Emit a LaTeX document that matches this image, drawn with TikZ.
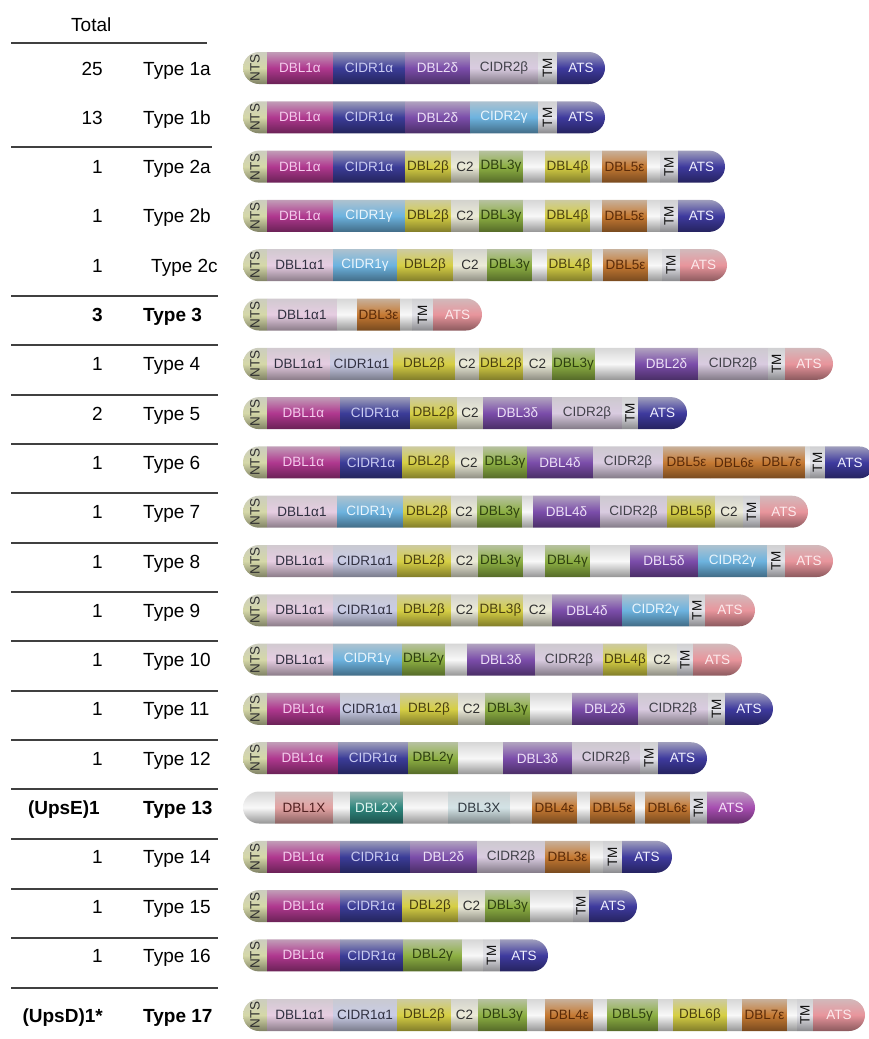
\documentclass[tikz,border=0pt]{standalone}
\usepackage{fontspec}
\setmainfont{Liberation Sans}
\usepackage{graphicx}
\usepackage{tikz}

\definecolor{nts}{HTML}{D5D8A8}\definecolor{ntsT}{HTML}{303030}
\definecolor{dA}{HTML}{B0388F}\definecolor{dAT}{HTML}{F4CBEC}
\definecolor{cA}{HTML}{3B3C98}\definecolor{cAT}{HTML}{CACCF2}
\definecolor{del}{HTML}{7B4DAA}\definecolor{delT}{HTML}{ECE0F6}
\definecolor{cB}{HTML}{D9CBE0}\definecolor{cBT}{HTML}{404048}
\definecolor{gam}{HTML}{6DB3DF}\definecolor{gamT}{HTML}{EAF5FC}
\definecolor{tm}{HTML}{E4E4EA}\definecolor{tmT}{HTML}{101010}
\definecolor{atsB}{HTML}{3E3A9E}\definecolor{atsBT}{HTML}{F0F0FF}
\definecolor{atsP}{HTML}{E8959C}\definecolor{atsPT}{HTML}{FCEAEC}
\definecolor{atsM}{HTML}{A64DB0}\definecolor{atsMT}{HTML}{F6E2F8}
\definecolor{bet}{HTML}{D6CF45}\definecolor{betT}{HTML}{4A4010}
\definecolor{ctw}{HTML}{ECEBD8}\definecolor{ctwT}{HTML}{303030}
\definecolor{grn}{HTML}{8DB043}\definecolor{grnT}{HTML}{2E4010}
\definecolor{eps}{HTML}{C67A33}\definecolor{epsT}{HTML}{5A2A08}
\definecolor{gap}{HTML}{F8F8F8}\definecolor{gapT}{HTML}{000000}
\definecolor{aI}{HTML}{E6CDE2}\definecolor{aIT}{HTML}{303040}
\definecolor{cI}{HTML}{C9CCE6}\definecolor{cIT}{HTML}{303040}
\definecolor{xI}{HTML}{E3A3A3}\definecolor{xIT}{HTML}{502020}
\definecolor{xII}{HTML}{2F877E}\definecolor{xIIT}{HTML}{E0F4F0}
\definecolor{xIII}{HTML}{D3E3E6}\definecolor{xIIIT}{HTML}{303840}

\newcommand{\domainbar}[4]{%
  \begin{scope}
    \clip[rounded corners=16pt] (243,#2-16) rectangle (#3,#2+16);
    \foreach \xe/\dk/\dl [count=\i, remember=\xe as \xs (initially 243)] in {#4}{
      \path[dom=\dk] (\xs,#2-16) rectangle (\xe,#2+16);
      \node[lbl, text=\dk T] (#1-\i) at ({(\xs+\xe)/2},#2) {\dl};
    }
  \end{scope}}
\newcommand{\vlab}[1]{\rotatebox{90}{\fontsize{13.5}{14}\selectfont #1}}

\begin{document}
\begin{tikzpicture}[x=1pt,y=-1pt,
    dom/.style={top color=#1!50!gray!60!white, bottom color=#1!60!black, middle color=#1},
    lbl/.style={font=\fontsize{13.5}{14}\selectfont, inner sep=0pt},
    cnt/.style={anchor=base east, font=\fontsize{19}{22}\selectfont, inner sep=0pt},
    typ/.style={anchor=base west, font=\fontsize{19}{22}\selectfont, inner sep=0pt},
    rule/.style={line width=1.6pt, draw=black!75}]
  \useasboundingbox (0,0) rectangle (869,1039);

  \node[typ] (total) at (71,31) {Total};
  \draw[rule] (11,43) -- (207,43);
  \draw[rule] (11,147) -- (212,147);
  \foreach \ly in {296,345,395,444,493,543,592,641,691,740,789,839,889,938,988}
    \draw[rule] (11,\ly) -- (218,\ly);

  \foreach \ry/\nr/\ty in {68/25/1a,117.3/13/1b,166.6/1/2a,215.9/1/2b,363.8/1/4,413.1/2/5,462.4/1/6,511.7/1/7,561/1/8,610.3/1/9,659.6/1/10,708.9/1/11,758.2/1/12,856.8/1/14,906.1/1/15,955.4/1/16}{
    \node[cnt] (n\ty) at (103,\ry+7) {\nr};
    \node[typ] (t\ty) at (143,\ry+7) {Type \ty};
  }
  \node[cnt] (n2c) at (103,272.2) {1};
  \node[typ] (t2c) at (151,272.2) {Type 2c};
  \node[cnt, font=\fontsize{19}{22}\selectfont\bfseries] (n3) at (103,321.5) {3};
  \node[typ, font=\fontsize{19}{22}\selectfont\bfseries] (t3) at (143,321.5) {Type 3};
  \node[cnt, font=\fontsize{19}{22}\selectfont\bfseries] (n13) at (100,814.5) {(UpsE)1};
  \node[typ, font=\fontsize{19}{22}\selectfont\bfseries] (t13) at (143,814.5) {Type 13};
  \node[cnt, font=\fontsize{19}{22}\selectfont\bfseries] (n17) at (103,1022) {(UpsD)1*};
  \node[typ, font=\fontsize{19}{22}\selectfont\bfseries] (t17) at (143,1022) {Type 17};

  \domainbar{b1a}{68}{605}{267/nts/\vlab{NTS},333/dA/DBL1α,405/cA/CIDR1α,470/del/DBL2δ,538/cB/CIDR2β,557/tm/\vlab{TM},605/atsB/ATS}
  \domainbar{b1b}{117.3}{605}{267/nts/\vlab{NTS},333/dA/DBL1α,405/cA/CIDR1α,470/del/DBL2δ,538/gam/CIDR2γ,557/tm/\vlab{TM},605/atsB/ATS}
  \domainbar{b2a}{166.6}{725}{267/nts/\vlab{NTS},333/dA/DBL1α,405/cA/CIDR1α,451/bet/DBL2β,479/ctw/C2,523/grn/DBL3γ,545/gap/{},590/bet/DBL4β,602/gap/{},647/eps/DBL5ε,660/gap/{},678/tm/\vlab{TM},725/atsB/ATS}
  \domainbar{b2b}{215.9}{725}{267/nts/\vlab{NTS},333/dA/DBL1α,405/gam/CIDR1γ,451/bet/DBL2β,479/ctw/C2,523/grn/DBL3γ,545/gap/{},590/bet/DBL4β,602/gap/{},647/eps/DBL5ε,660/gap/{},678/tm/\vlab{TM},725/atsB/ATS}
  \domainbar{b2c}{265.2}{727}{267/nts/\vlab{NTS},333/aI/DBL1α1,397/gam/CIDR1γ,453/bet/DBL2β,487/ctw/C2,532/grn/DBL3γ,547/gap/{},592/bet/DBL4β,603/gap/{},648/eps/DBL5ε,662/gap/{},680/tm/\vlab{TM},727/atsP/ATS}
  \domainbar{b3}{314.5}{482}{267/nts/\vlab{NTS},337/aI/DBL1α1,357/gap/{},400/eps/DBL3ε,412/gap/{},433/tm/\vlab{TM},482/atsP/ATS}
  \domainbar{b4}{363.8}{833}{267/nts/\vlab{NTS},330/aI/DBL1α1,393/cI/CIDR1α1,455/bet/DBL2β,479/ctw/C2,523/bet/DBL2β,552/ctw/C2,595/grn/DBL3γ,635/gap/{},698/del/DBL2δ,768/cB/CIDR2β,785/tm/\vlab{TM},833/atsP/ATS}
  \domainbar{b5}{413.1}{687}{267/nts/\vlab{NTS},340/dA/DBL1α,410/cA/CIDR1α,457/bet/DBL2β,483/ctw/C2,552/del/DBL3δ,622/cB/CIDR2β,638/tm/\vlab{TM},687/atsB/ATS}
  \domainbar{b6}{462.4}{875}{267/nts/\vlab{NTS},340/dA/DBL1α,402/cA/CIDR1α,455/bet/DBL2β,483/ctw/C2,527/grn/DBL3γ,593/del/DBL4δ,663/cB/CIDR2β,710/eps/DBL5ε,758/eps/DBL6ε,805/eps/DBL7ε,810/gap/{},825/tm/\vlab{TM},875/atsB/ATS}
  \domainbar{b7}{511.7}{808}{267/nts/\vlab{NTS},337/aI/DBL1α1,403/gam/CIDR1γ,451/bet/DBL2β,477/ctw/C2,522/grn/DBL3γ,533/gap/{},600/del/DBL4δ,667/cB/CIDR2β,715/bet/DBL5β,743/ctw/C2,760/tm/\vlab{TM},808/atsP/ATS}
  \domainbar{b8}{561}{833}{267/nts/\vlab{NTS},333/aI/DBL1α1,397/cI/CIDR1α1,451/bet/DBL2β,478/ctw/C2,523/grn/DBL3γ,545/gap/{},590/grn/DBL4γ,630/gap/{},698/del/DBL5δ,767/gam/CIDR2γ,785/tm/\vlab{TM},833/atsP/ATS}
  \domainbar{b9}{610.3}{755}{267/nts/\vlab{NTS},333/aI/DBL1α1,397/cI/CIDR1α1,451/bet/DBL2β,478/ctw/C2,523/bet/DBL3β,552/ctw/C2,622/del/DBL4δ,689/gam/CIDR2γ,705/tm/\vlab{TM},755/atsP/ATS}
  \domainbar{b10}{659.6}{742}{267/nts/\vlab{NTS},333/aI/DBL1α1,402/gam/CIDR1γ,445/grn/DBL2γ,467/gap/{},535/del/DBL3δ,603/cB/CIDR2β,647/bet/DBL4β,677/ctw/C2,693/tm/\vlab{TM},742/atsP/ATS}
  \domainbar{b11}{708.9}{773}{267/nts/\vlab{NTS},340/dA/DBL1α,400/cI/CIDR1α1,458/bet/DBL2β,485/ctw/C2,530/grn/DBL3γ,572/gap/{},638/del/DBL2δ,708/cB/CIDR2β,725/tm/\vlab{TM},773/atsB/ATS}
  \domainbar{b12}{758.2}{707}{267/nts/\vlab{NTS},338/dA/DBL1α,408/cA/CIDR1α,458/grn/DBL2γ,503/gap/{},572/del/DBL3δ,640/cB/CIDR2β,658/tm/\vlab{TM},707/atsB/ATS}
  \domainbar{b13}{807.5}{755}{275/gap/{},333/xI/DBL1X,350/gap/{},403/xII/DBL2X,448/gap/{},510/xIII/DBL3X,532/gap/{},577/eps/DBL4ε,590/gap/{},635/eps/DBL5ε,645/gap/{},690/eps/DBL6ε,707/tm/\vlab{TM},755/atsM/ATS}
  \domainbar{b14}{856.8}{672}{267/nts/\vlab{NTS},340/dA/DBL1α,410/cA/CIDR1α,477/del/DBL2δ,545/cB/CIDR2β,590/eps/DBL3ε,603/gap/{},622/tm/\vlab{TM},672/atsB/ATS}
  \domainbar{b15}{906.1}{637}{267/nts/\vlab{NTS},340/dA/DBL1α,402/cA/CIDR1α,458/bet/DBL2β,485/ctw/C2,530/grn/DBL3γ,573/gap/{},589/tm/\vlab{TM},637/atsB/ATS}
  \domainbar{b16}{955.4}{548}{267/nts/\vlab{NTS},340/dA/DBL1α,403/cA/CIDR1α,462/grn/DBL2γ,483/gap/{},500/tm/\vlab{TM},548/atsB/ATS}
  \domainbar{b17}{1015}{865}{267/nts/\vlab{NTS},333/aI/DBL1α1,397/cI/CIDR1α1,451/bet/DBL2β,478/ctw/C2,527/grn/DBL3γ,545/gap/{},593/eps/DBL4ε,607/gap/{},658/grn/DBL5γ,673/gap/{},727/bet/DBL6β,742/gap/{},787/eps/DBL7ε,797/gap/{},813/tm/\vlab{TM},865/atsP/ATS}
\end{tikzpicture}
\end{document}
